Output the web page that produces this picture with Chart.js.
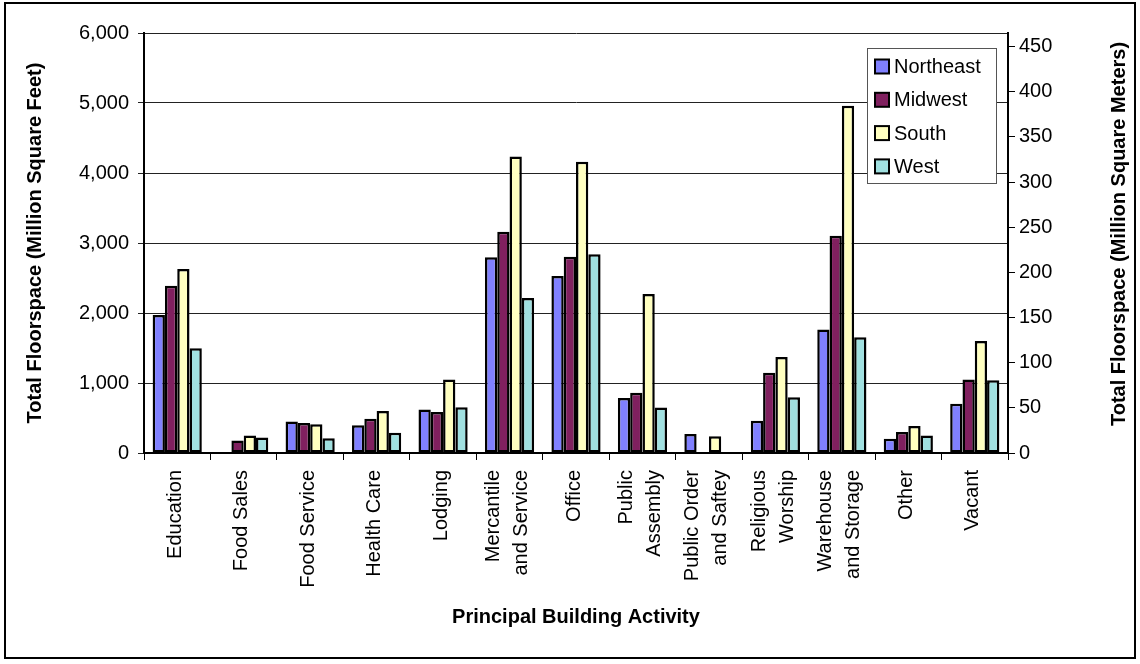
<!DOCTYPE html>
<html>
<head>
<meta charset="utf-8">
<title>Total Floorspace by Principal Building Activity</title>
<script src="https://cdn.jsdelivr.net/npm/chart.js@4"></script>
<style>
    body { margin: 0; background: #fff; }
    #wrap { width: 1140px; height: 664px; position: relative; }
</style>
</head>
<body>
<div id="wrap"><canvas id="floorChart"></canvas></div>
<script>
const categories = [
    ['Education'], ['Food Sales'], ['Food Service'], ['Health Care'], ['Lodging'],
    ['Mercantile', 'and Service'], ['Office'], ['Public', 'Assembly'],
    ['Public Order', 'and Saftey'], ['Religious', 'Worship'],
    ['Warehouse', 'and Storage'], ['Other'], ['Vacant']
];
const regions = ['Northeast', 'Midwest', 'South', 'West'];
const regionColors = ['#8080ff', '#80205f', '#ffffc0', '#a0e0e0'];

// million square feet
const northeast = [1970, null, 450, 395, 620, 2795, 2530, 785, 270, 460, 1765, 205, 705];
const midwest = [2390, 180, 430, 490, 585, 3160, 2805, 860, null, 1145, 3105, 300, 1050];
const south = [2630, 250, 410, 600, 1050, 4235, 4160, 2270, 240, 1370, 4960, 385, 1600];
const west = [1495, 220, 210, 290, 655, 2215, 2840, 650, null, 795, 1655, 250, 1040];

const feetTicks = [0, 1000, 2000, 3000, 4000, 5000, 6000];
const meterTicks = [0, 50, 100, 150, 200, 250, 300, 350, 400, 450];
const meterMax = 465;

const FONT = 'Arial, "Liberation Sans", sans-serif';

const extras = {
    id: 'extras',
    afterDraw(chart) {
        const ctx = chart.ctx;
        const xScale = chart.scales.x;
        ctx.save();

        // outer frame
        ctx.strokeStyle = '#000';
        ctx.lineWidth = 2;
        ctx.strokeRect(5, 3, 1130, 655);

        // category labels, rotated, lines centred on each category
        ctx.font = `20px ${FONT}`;
        ctx.fillStyle = '#000';
        ctx.textAlign = 'right';
        ctx.textBaseline = 'middle';
        categories.forEach((lines, i) => {
            const cx = xScale.getPixelForValue(i);
            lines.forEach((line, j) => {
                const x = cx - 2 + (j - (lines.length - 1) / 2) * 28;
                ctx.setTransform(1, 0, 0, 1, x, 470);
                ctx.rotate(-Math.PI / 2);
                ctx.fillText(line, 0, 0);
            });
        });
        ctx.setTransform(1, 0, 0, 1, 0, 0);

        // right axis title, reading bottom to top like the left one
        ctx.translate(1119, 234);
        ctx.rotate(-Math.PI / 2);
        ctx.font = `bold 20px ${FONT}`;
        ctx.textAlign = 'center';
        ctx.fillText('Total Floorspace (Million Square Meters)', 0, 0);
        ctx.setTransform(1, 0, 0, 1, 0, 0);

        // legend inside the plot
        ctx.fillStyle = '#fff';
        ctx.fillRect(867, 48, 129, 135);
        ctx.strokeStyle = '#555';
        ctx.lineWidth = 1;
        ctx.strokeRect(867.5, 48.5, 129, 135);
        ctx.font = `20px ${FONT}`;
        ctx.textAlign = 'left';
        chart.data.datasets.forEach((ds, i) => {
            const y = 66.5 + i * 33.3;
            ctx.fillStyle = ds.backgroundColor;
            ctx.fillRect(875, y - 7, 14, 14);
            ctx.strokeStyle = '#000';
            ctx.lineWidth = 2;
            ctx.strokeRect(875, y - 7, 14, 14);
            ctx.fillStyle = '#000';
            ctx.fillText(ds.label, 894, y + 1);
        });
        ctx.restore();
    }
};

const ctx = document.getElementById('floorChart').getContext('2d');
new Chart(ctx, {
    type: 'bar',
    data: {
        labels: categories,
        datasets: [northeast, midwest, south, west].map((values, i) => ({
            label: regions[i],
            data: values,
            backgroundColor: regionColors[i],
            borderColor: '#000',
            borderWidth: 2.5,
            borderSkipped: false,
            categoryPercentage: 0.74,
            barPercentage: 1.0,
            yAxisID: 'y'
        }))
    },
    options: {
        responsive: true,
        maintainAspectRatio: false,
        animation: false,
        layout: {
            padding: { left: 10, right: 10, top: 33, bottom: 30 }
        },
        plugins: {
            legend: { display: false },
            tooltip: { enabled: false }
        },
        scales: {
            x: {
                offset: true,
                afterFit: scale => { scale.height = 181; },
                grid: {
                    offset: true,
                    drawOnChartArea: false,
                    drawTicks: true,
                    tickLength: 7,
                    color: '#000'
                },
                border: { color: '#000', width: 2 },
                ticks: { display: false, autoSkip: false },
                title: {
                    display: true,
                    text: 'Principal Building Activity',
                    color: '#000',
                    font: { family: FONT, size: 20, weight: 'bold' },
                    padding: { top: 4, bottom: 5 }
                }
            },
            y: {
                position: 'left',
                min: feetTicks[0],
                max: feetTicks[feetTicks.length - 1],
                afterFit: scale => { scale.width = 134; },
                afterBuildTicks: scale => { scale.ticks = feetTicks.map(v => ({ value: v })); },
                grid: {
                    color: '#222',
                    lineWidth: 1,
                    tickLength: 6
                },
                border: { color: '#000', width: 2 },
                ticks: {
                    padding: 9,
                    color: '#000',
                    font: { family: FONT, size: 20 },
                    callback: value => value.toLocaleString('en-US')
                },
                title: {
                    display: true,
                    text: 'Total Floorspace (Million Square Feet)',
                    color: '#000',
                    font: { family: FONT, size: 20, weight: 'bold' },
                    padding: { top: 13, bottom: 4 }
                }
            },
            y2: {
                position: 'right',
                min: 0,
                max: meterMax,
                afterFit: scale => { scale.width = 122; },
                afterBuildTicks: scale => { scale.ticks = meterTicks.map(v => ({ value: v })); },
                grid: {
                    drawOnChartArea: false,
                    tickLength: 7,
                    color: '#000'
                },
                border: { color: '#000', width: 2 },
                ticks: {
                    padding: 4,
                    color: '#000',
                    font: { family: FONT, size: 20 }
                }
            }
        }
    },
    plugins: [extras]
});
</script>
</body>
</html>
